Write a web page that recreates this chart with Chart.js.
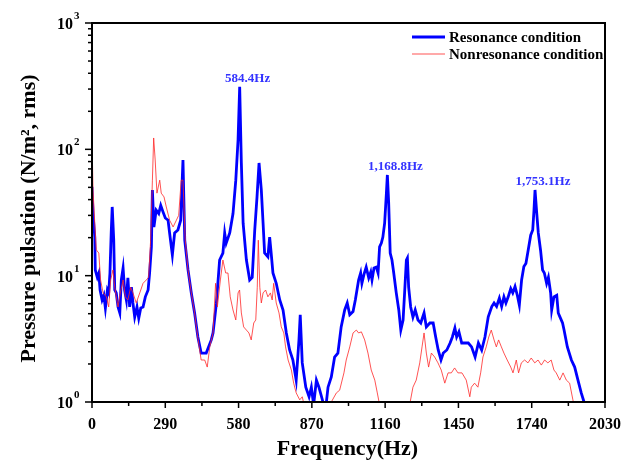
<!DOCTYPE html>
<html><head><meta charset="utf-8">
<script src="https://cdn.jsdelivr.net/npm/chart.js@4.4.1/dist/chart.umd.min.js"></script>
<style>html,body{margin:0;padding:0;background:#fff;}#wrap{width:623px;height:461px;}</style>
</head><body><div id="wrap"><canvas id="c" width="623" height="461"></canvas></div>
<script>
const blueFreq = [0,4,11,13,21,27,32,40,47,53,
61,66,71,76,80,86,90,96,103,110,
116,123,129,136,142,149,156,162,169,178,
185,193,202,211,222,228,235,239,245,254,
264,272,281,290,301,307,318,327,340,351,
360,367,380,393,406,419,432,452,472,479,
492,505,518,525,531,545,558,569,578,584.4,
591,598,611,624,634,644,653,661,670,677,
683,696,703,709,716,729,743,756,769,782,
795,808,819,824,832,846,859,868,877,888,
898,914,925,934,947,960,973,986,1000,1010,
1020,1033,1042,1055,1063,1068,1076,1085,1095,1103,
1108,1116,1125,1132,1138,1145,1151,1158,1165,1168.8,
1174,1180,1187,1194,1204,1214,1222,1231,1237,1244,
1248,1253,1261,1270,1279,1290,1301,1314,1323,1337,
1350,1360,1370,1381,1390,1404,1417,1426,1436,1443,
1452,1463,1476,1489,1502,1516,1529,1542,1555,1568,
1582,1591,1601,1612,1621,1630,1638,1647,1657,1665,
1674,1683,1691,1700,1709,1717,1726,1736,1744,1749,
1753.1,1760,1766,1775,1783,1790,1799,1806,1815,1819,
1828,1839,1845,1852,1862,1868,1881,1897,1910,1923,
1936,1947,1960];
const blueVal = [50.6,31,20.2,11.1,9.7,10.5,7.7,6.42,7.0,5.55,
7.7,7.3,10.5,21.8,35,19.1,7.7,7.3,5.65,5.07,
9.25,11.5,7.7,6.42,9.6,5.65,8.1,6.08,4.7,5.65,
4.6,5.55,5.65,6.8,7.7,10.5,16.9,47.7,24.3,33,
31,36,32,28.6,27.5,21.8,14.6,21.8,23,27.5,
82.4,19.1,11.1,7.3,5.07,3.27,2.44,2.44,3.1,3.52,
6,13.3,15.1,21.8,18.1,21.8,31,57,119,312,
78,26,13.3,9.25,9.7,23,42,78,47.7,26,
15.1,14.1,20.2,15.1,10.5,8.7,6.42,5.35,3.52,2.58,
2.15,1.49,3.1,4.9,2.04,1.31,1.1,1.31,0.95,1.49,
1.31,1.0,0.9,1.31,1.58,2.27,2.44,3.93,5.35,6.08,
4.9,5.2,6.42,9.25,10.5,8.7,10.2,11.7,9.6,10.7,
9.25,11.5,11.7,10.5,16.9,18.1,20.2,26,45,62.7,
37.6,15.1,13.3,10.5,7.3,5.35,3.71,4.46,7.3,13.3,
13.8,8.1,5.65,4.7,5.35,4.46,4.22,5.07,3.93,4.22,
4.22,3.27,2.58,2.15,2.44,2.58,2.93,3.27,3.85,3.27,
3.59,2.93,2.93,2.93,2.73,2.27,2.93,2.58,3.27,4.73,
5.7,6.08,5.7,6.65,5.7,6.8,6.08,6.8,7.9,7.3,
8.2,7.0,5.85,9.25,11.8,12.5,15.9,20.9,23,33,
47.7,31,21.8,15.9,11.1,10.5,8.7,9.7,7.3,5.35,
6.8,7.0,5.07,4.7,4.22,3.71,2.73,2.15,1.89,1.49,
1.18,1.0,0.8];
const redFreq = [0,4,11,17,27,34,44,57,66,74,
83,90,103,112,123,132,142,153,162,175,
189,202,215,224,232,239,244,250,257,268,
274,285,294,307,321,334,343,353,360,369,
380,393,406,413,422,432,446,456,466,479,
489,496,508,518,529,538,547,558,569,578,
584,591,600,611,621,630,640,648,654,658,
664,670,677,687,696,706,713,719,729,740,
749,759,766,776,789,798,808,822,832,842,
855,935,947,967,980,997,1006,1020,1033,1046,
1055,1066,1079,1092,1105,1119,1129,1138,1150,1245,
1257,1270,1283,1297,1306,1314,1323,1332,1343,1356,
1369,1382,1396,1409,1422,1435,1448,1464,1481,1495,
1501,1514,1527,1538,1547,1560,1570,1580,1591,1600,
1609,1620,1630,1643,1657,1666,1679,1688,1699,1712,
1725,1738,1752,1765,1778,1791,1804,1817,1828,1837,
1851,1864,1877,1890,1903,1915];
const redVal = [123,47.7,26,16,15.1,9.25,7.3,6.8,5.65,9.25,
11.1,8.1,5.65,7.3,9.25,6.8,6.42,8.1,7.3,6.08,
7.3,8.7,9.25,9.7,19.1,57,123,82.4,45,57,
45,42,35,27.5,24.3,27.5,30,57,57,19.1,
11.1,7.3,5.07,3.93,2.93,2.15,2.15,1.89,2.73,3.52,
8.7,5.65,9.25,13.3,10.5,10.5,6.8,5.35,4.46,7.3,
7.7,5.07,3.93,3.71,3.52,3.1,4.22,4.46,8.1,19.1,
8.1,6.08,7.3,7.7,6.8,7.3,6.42,8.7,6.08,5.07,
3.93,3.52,2.73,2.15,1.79,1.41,1.18,1.04,1.1,0.9,
0.7,0.7,1.0,1.18,1.24,1.7,2.15,2.73,3.52,3.71,
3.52,3.59,3.1,2.44,1.79,1.49,1.18,0.95,0.7,0.7,
0.95,1.31,1.49,2.04,2.73,3.52,2.44,1.89,2.44,2.27,
2.04,1.79,1.41,1.7,1.7,1.86,1.7,1.7,1.49,1.1,
1.31,1.41,1.31,1.7,2.27,2.73,3.27,3.71,3.1,2.73,
3.1,2.73,2.44,2.15,1.89,1.7,2.15,1.7,2.04,2.15,
2.04,2.23,2.04,2.15,1.96,2.15,2.04,2.15,1.79,1.7,
1.49,1.7,1.49,1.41,1.04,0.8];
const xTickLabels = [0,290,580,870,1160,1450,1740,2030];
const xMinorStep = 145;
const yDecades = [1,10,100,1000];
const seriesNames = ['Resonance condition','Nonresonance condition'];
const peakFreqs = [584.4,1168.8,1753.1];
const peakVals = [312,62.7,47.7];
const peakLabels = ['584.4Hz','1,168.8Hz','1,753.1Hz'];
const xTitle = 'Frequency(Hz)';
const yTitle = 'Pressure pulsation (N/m\u00B2, rms)';

const BLUE = '#0000ff', RED = 'rgba(255,40,40,0.8)';
const SERIF = '"Liberation Serif","DejaVu Serif",serif';

const decor = {
  id: 'decor',
  afterDraw(chart) {
    const {ctx, chartArea: a, scales: {x, y}} = chart;
    ctx.save();
    ctx.strokeStyle = '#000'; ctx.fillStyle = '#000'; ctx.lineWidth = 2;
    ctx.strokeRect(a.left, a.top, a.right - a.left, a.bottom - a.top);
    ctx.lineWidth = 1.5;
    ctx.font = 'bold 16px ' + SERIF; ctx.textAlign = 'center'; ctx.textBaseline = 'alphabetic';
    x.ticks.forEach(t => {
      const px = x.getPixelForValue(t.value);
      const major = xTickLabels.includes(t.value);
      ctx.beginPath(); ctx.moveTo(px, a.bottom); ctx.lineTo(px, a.bottom + (major ? 6 : 4)); ctx.stroke();
      if (major) ctx.fillText(String(t.value), px, a.bottom + 27);
    });
    y.ticks.forEach(t => {
      const py = y.getPixelForValue(t.value);
      const major = yDecades.includes(t.value);
      ctx.beginPath(); ctx.moveTo(a.left, py); ctx.lineTo(a.left - (major ? 7 : 4), py); ctx.stroke();
    });
    yDecades.forEach(v => {
      const py = y.getPixelForValue(v);
      const e = Math.round(Math.log10(v));
      ctx.font = 'bold 16px ' + SERIF; ctx.textAlign = 'right';
      ctx.fillText('10', a.left - 19, py + 6);
      ctx.font = 'bold 11px ' + SERIF; ctx.textAlign = 'left';
      ctx.fillText(String(e), a.left - 18, py - 4);
    });
    ctx.font = 'bold 22px ' + SERIF; ctx.textAlign = 'center';
    ctx.fillText(xTitle, (a.left + a.right) / 2 - 1, 455);
    ctx.save();
    ctx.translate(35, (a.top + a.bottom) / 2 + 6);
    ctx.rotate(-Math.PI / 2);
    ctx.fillText(yTitle, 0, 0);
    ctx.restore();
    const ds = chart.data.datasets;
    const legendRows = [{y: 37, ds: ds[0]}, {y: 54, ds: ds[1]}];
    legendRows.forEach(r => {
      ctx.strokeStyle = r.ds.borderColor; ctx.lineWidth = r.ds.borderWidth;
      ctx.beginPath(); ctx.moveTo(412, r.y); ctx.lineTo(445, r.y); ctx.stroke();
      ctx.fillStyle = '#000'; ctx.font = 'bold 15px ' + SERIF; ctx.textAlign = 'left';
      ctx.fillText(r.ds.label, 449, r.y + 5);
    });
    ctx.fillStyle = '#3333ff'; ctx.font = 'bold 13px ' + SERIF; ctx.textAlign = 'center';
    peakFreqs.forEach((f, i) => {
      const px = x.getPixelForValue(f), py = y.getPixelForValue(peakVals[i]);
      ctx.fillText(peakLabels[i], px + 8, py - 5);
    });
    ctx.restore();
  }
};

const xt = [];
for (let v = 0; v <= 2030; v += xMinorStep) xt.push(v);
const yt = [];
yDecades.forEach(d => { if (d < 1000) { for (let k = 1; k < 10; k++) yt.push(d * k); } else yt.push(d); });

new Chart(document.getElementById('c'), {
  type: 'line',
  data: {
    datasets: [
      {label: seriesNames[0], data: blueFreq.map((f, i) => ({x: f, y: blueVal[i]})), borderColor: BLUE, borderWidth: 2.8, pointRadius: 0, tension: 0, order: 2},
      {label: seriesNames[1], data: redFreq.map((f, i) => ({x: f, y: redVal[i]})), borderColor: RED, borderWidth: 1, pointRadius: 0, tension: 0, order: 1}
    ]
  },
  options: {
    responsive: false, animation: false, devicePixelRatio: 1,
    layout: {padding: {left: 0, top: 23, right: 18, bottom: 0}},
    plugins: {legend: {display: false}, tooltip: {enabled: false}},
    scales: {
      x: {type: 'linear', min: 0, max: 2030,
        afterBuildTicks: s => { s.ticks = xt.map(v => ({value: v})); },
        ticks: {display: false}, grid: {display: false, drawTicks: false}, border: {display: false},
        afterFit: s => { s.height = 59; }},
      y: {type: 'logarithmic', min: 1, max: 1000,
        afterBuildTicks: s => { s.ticks = yt.map(v => ({value: v})); },
        ticks: {display: false}, grid: {display: false, drawTicks: false}, border: {display: false},
        afterFit: s => { s.width = 92; }}
    }
  },
  plugins: [decor]
});
</script></body></html>
